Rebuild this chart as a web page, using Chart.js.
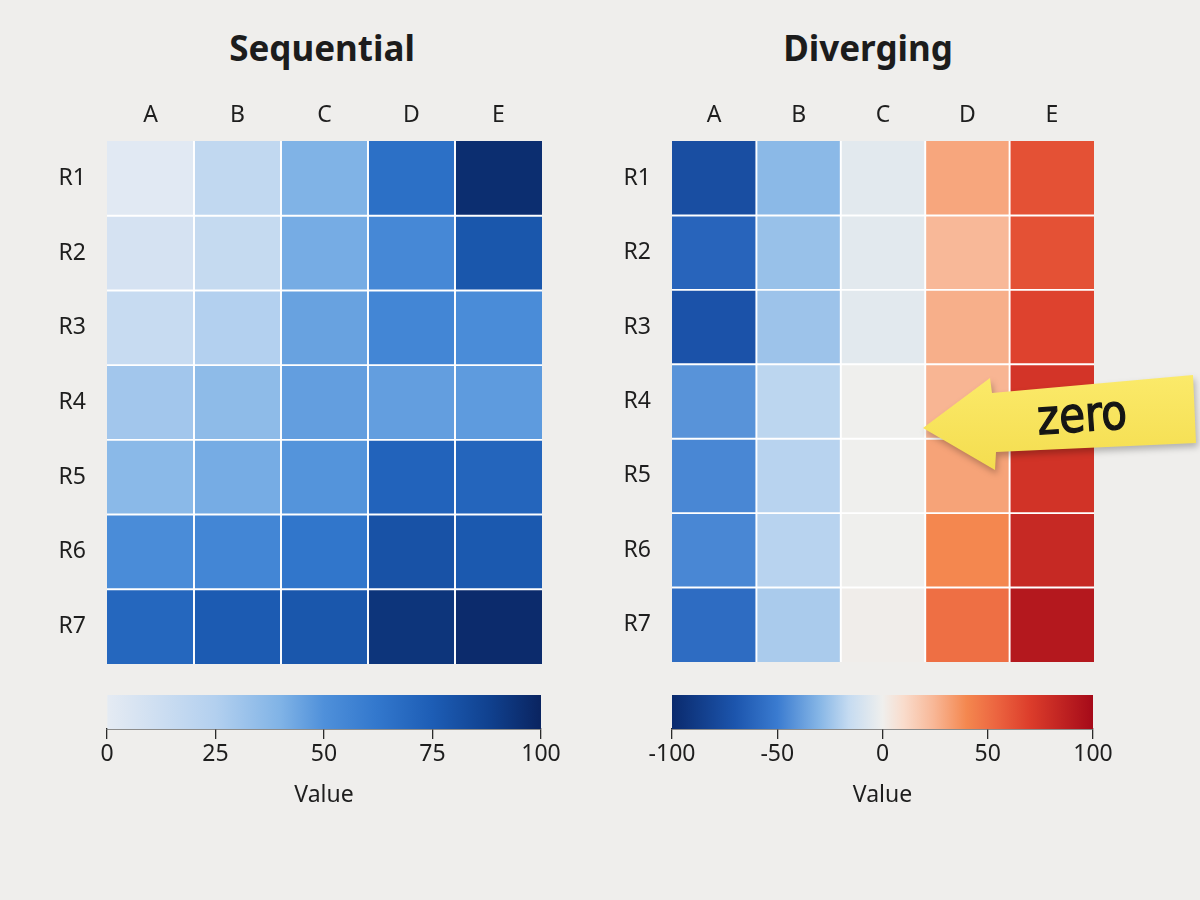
<!DOCTYPE html>
<html>
<head>
<meta charset="utf-8">
<script src="https://cdn.jsdelivr.net/npm/chart.js@4.4.1/dist/chart.umd.min.js"></script>
<style>
  html, body { margin: 0; padding: 0; }
  body { width: 1200px; height: 900px; background: #efeeec; position: relative; overflow: hidden; font-family: "Noto Sans", sans-serif; }
  canvas { position: absolute; }
  .title { position: absolute; top: 25px; width: 400px; text-align: center; font: bold 35px "Noto Sans", sans-serif; color: #1c1c1c; margin: 0; line-height: 46px; }
  #note { position: absolute; left: 900px; top: 360px; filter: drop-shadow(2px 4px 3px rgba(0,0,0,0.25)); }
</style>
</head>
<body>
<div class="title" style="left:122px">Sequential</div>
<div class="title" style="left:668px">Diverging</div>

<canvas id="seqHeat" width="540" height="600" style="left:20px;top:80px"></canvas>
<canvas id="divHeat" width="527" height="600" style="left:585px;top:80px"></canvas>
<canvas id="seqBar" width="530" height="130" style="left:60px;top:685px"></canvas>
<canvas id="divBar" width="520" height="130" style="left:625px;top:685px"></canvas>

<svg id="note" width="300" height="125" viewBox="0 0 300 125">
  <defs>
    <linearGradient id="paper" x1="0" y1="0" x2="0" y2="1">
      <stop offset="0" stop-color="#fbea6a"/>
      <stop offset="1" stop-color="#f4dd4f"/>
    </linearGradient>
  </defs>
  <polygon points="23,68 90,18 92,33 293,15 296,83 96,92 95,110" fill="url(#paper)"/>
  <text x="182" y="70" text-anchor="middle" transform="rotate(-4 182 55) scale(1 1.15) translate(0 -8)"
        font-family="DejaVu Sans" font-size="42" fill="#151515" stroke="#151515" stroke-width="1.2">zero</text>
</svg>

<script>
const rows = ['R1', 'R2', 'R3', 'R4', 'R5', 'R6', 'R7'];
const cols = ['A', 'B', 'C', 'D', 'E'];

// sequential panel, one array per column (R1..R7)
const seqA = [2, 8, 15, 30, 37, 52, 70];
const seqB = [18, 16, 25, 36, 42, 55, 76];
const seqC = [40, 42, 45, 46, 49, 63, 78];
const seqD = [66, 54, 55, 46, 72, 80, 93];
const seqE = [96, 78, 52, 47, 71, 77, 97];

// diverging panel, one array per column (R1..R7)
const divA = [-75, -62, -72, -42, -46, -46, -58];
const divB = [-29, -26, -25, -18, -19, -19, -22];
const divC = [-5, -5, -5, 0, 0, 0, 1];
const divD = [30, 24, 27, 25, 31, 40, 50];
const divE = [62, 62, 68, 75, 76, 82, 92];

const seqTicks = [0, 25, 50, 75, 100];
const divTicks = [-100, -50, 0, 50, 100];

// colour maps: [position 0..1, hex]
const blues = [
  [0, '#e5ebf3'], [0.25, '#b3d0ef'], [0.4, '#80b3e6'], [0.5, '#4f90da'],
  [0.62, '#3378cd'], [0.75, '#1d5db5'], [0.88, '#10418f'], [1, '#0a2460']
];
const redBlue = [
  [0, '#0a2a6d'], [0.15, '#1c55ad'], [0.25, '#3a7bd0'], [0.35, '#86b6e6'],
  [0.42, '#c5dbf1'], [0.5, '#efefed'], [0.55, '#f9dccc'], [0.62, '#f8b898'],
  [0.7, '#f4874f'], [0.77, '#ec6540'], [0.85, '#dc3d2b'], [1, '#a50a19']
];

const FONT = '"Noto Sans", sans-serif';
const INK = '#1e1e1e';

function hexRgb(h) {
  return [1, 3, 5].map(i => parseInt(h.substr(i, 2), 16));
}

function colorAt(map, t) {
  t = Math.max(0, Math.min(1, t));
  for (let k = 1; k < map.length; k++) {
    if (t <= map[k][0]) {
      const [t0, c0] = map[k - 1];
      const [t1, c1] = map[k];
      const f = (t - t0) / (t1 - t0);
      const a = hexRgb(c0), b = hexRgb(c1);
      const c = a.map((v, i) => Math.round(v + (b[i] - v) * f));
      return `rgb(${c[0]},${c[1]},${c[2]})`;
    }
  }
  return map[map.length - 1][1];
}

function heatmap(id, columns, map, lo, hi, bottomPad) {
  const gap = 1.3;
  const datasets = columns.map((vals, ci) => ({
    label: cols[ci],
    data: vals.map(() => 1),
    backgroundColor: vals.map(v => colorAt(map, (v - lo) / (hi - lo))),
    borderColor: '#ffffff',
    borderSkipped: false,
    borderWidth: (ctx) => ({
      left: ctx.datasetIndex > 0 ? gap : 0,
      right: ctx.datasetIndex < cols.length - 1 ? gap : 0,
      top: ctx.dataIndex > 0 ? gap : 0,
      bottom: ctx.dataIndex < rows.length - 1 ? gap : 0
    }),
    barPercentage: 1,
    categoryPercentage: 1
  }));

  return new Chart(document.getElementById(id), {
    type: 'bar',
    data: { labels: rows, datasets: datasets },
    options: {
      indexAxis: 'y',
      responsive: false,
      animation: false,
      layout: { padding: { top: 0, right: 18, bottom: bottomPad, left: 0 } },
      plugins: { legend: { display: false }, tooltip: { enabled: false } },
      scales: {
        x: {
          type: 'linear', position: 'top', stacked: true, min: 0, max: cols.length,
          grid: { display: false, drawTicks: false }, border: { display: false },
          afterBuildTicks: (s) => { s.ticks = cols.map((c, i) => ({ value: i + 0.5 })); },
          afterFit: (s) => { s.height = 61; s.paddingLeft = 0; s.paddingRight = 0; },
          ticks: {
            padding: 12, color: INK, font: { family: FONT, size: 23 },
            callback: (v) => cols[Math.floor(v)]
          }
        },
        y: {
          stacked: true,
          grid: { display: false, drawTicks: false }, border: { display: false },
          afterFit: (s) => { s.width = 87; s.paddingTop = 0; s.paddingBottom = 0; },
          ticks: { padding: 21, color: INK, font: { family: FONT, size: 23 } }
        }
      }
    }
  });
}

function colorbar(id, map, lo, hi, tickVals, padL, padR) {
  return new Chart(document.getElementById(id), {
    type: 'bar',
    data: {
      labels: [''],
      datasets: [{
        data: [[lo, hi]],
        backgroundColor: (ctx) => {
          const a = ctx.chart.chartArea;
          if (!a) return null;
          const g = ctx.chart.ctx.createLinearGradient(a.left, 0, a.right, 0);
          map.forEach(([t, c]) => g.addColorStop(t, c));
          return g;
        },
        borderWidth: 0,
        barPercentage: 1,
        categoryPercentage: 1
      }]
    },
    options: {
      indexAxis: 'y',
      responsive: false,
      animation: false,
      layout: { padding: { top: 10, right: padR, bottom: 0, left: padL } },
      plugins: { legend: { display: false }, tooltip: { enabled: false } },
      scales: {
        x: {
          type: 'linear', min: lo, max: hi,
          afterBuildTicks: (s) => { s.ticks = tickVals.map(v => ({ value: v })); },
          afterFit: (s) => { s.height = 86; },
          grid: { drawOnChartArea: false, drawTicks: true, tickLength: 10, color: '#2a2a2a', lineWidth: 1.3 },
          border: { display: true, color: '#2a2a2a', width: 1.5 },
          ticks: { padding: 2, color: INK, font: { family: FONT, size: 23 } },
          title: { display: true, text: 'Value', color: INK, font: { family: FONT, size: 23 }, padding: { top: 4, bottom: 6 } }
        },
        y: { display: false }
      }
    }
  });
}

heatmap('seqHeat', [seqA, seqB, seqC, seqD, seqE], blues, 0, 100, 16);
heatmap('divHeat', [divA, divB, divC, divD, divE], redBlue, -100, 100, 18);
colorbar('seqBar', blues, 0, 100, seqTicks, 47, 49);
colorbar('divBar', redBlue, -100, 100, divTicks, 47, 52);
</script>
</body>
</html>
